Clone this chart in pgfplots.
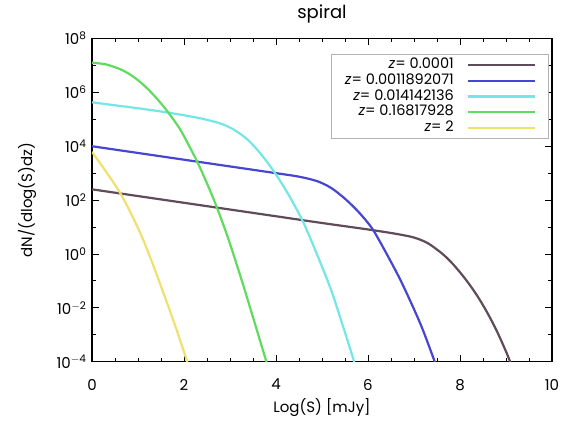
\documentclass[border=0pt]{standalone}
\usepackage{fontspec}
\setmainfont{Poppins}
\usepackage{pgfplots}
\pgfplotsset{compat=1.18}
\definecolor{cbrown}{RGB}{95,75,90}
\definecolor{cblue}{RGB}{70,70,210}
\definecolor{ccyan}{RGB}{115,230,230}
\definecolor{cgreen}{RGB}{95,220,95}
\definecolor{cyellow}{RGB}{240,225,110}
\begin{document}
\begin{tikzpicture}
\useasboundingbox (-92pt,-59.3pt) rectangle (471pt,361.7pt);
\begin{axis}[
  at={(0pt,0pt)}, anchor=south west, scale only axis,
  width=460pt, height=323.2pt,
  xmin=0, xmax=10, ymin=-4, ymax=8,
  xtick={0,2,...,10}, xticklabels={0,2,4,6,8,10}, minor x tick num=3,
  ytick={-4,-2,...,8}, minor ytick={-3,-1,...,7},
  yticklabels={10\textsuperscript{$-$4},10\textsuperscript{$-$2},10\textsuperscript{0},10\textsuperscript{2},10\textsuperscript{4},10\textsuperscript{6},10\textsuperscript{8}},
  axis line style={line width=1.1pt},
  every tick/.style={black, line width=0.9pt},
  major tick length=7pt, minor tick length=4pt,
  tick label style={font=\fontsize{15}{18}\selectfont},
  xticklabel style={yshift=-14pt},
  yticklabel style={xshift=-2pt},
  xlabel={Log(S) [mJy]}, ylabel={dN/(dlog(S)dz)},
  label style={font=\fontsize{15}{18}\selectfont},
  xlabel style={at={(axis description cs:0.5,-0.141)}, anchor=center},
  ylabel style={at={(axis description cs:-0.1413,0.5)}, anchor=center},
  title={spiral},
  title style={font=\fontsize{18}{20}\selectfont, at={(axis description cs:0.5,1.056)}, anchor=center},
  legend style={at={(0.993,0.952)}, anchor=north east, draw=gray!60, line width=0.5pt,
    font=\fontsize{14.5}{16}\selectfont, row sep=0.2pt, column sep=12pt, inner xsep=12pt, inner ysep=3pt,
    nodes={inner sep=1.5pt, text height=10pt, text depth=2.5pt}},
  legend cell align=right, legend plot pos=right,
  legend image code/.code={\draw[#1, line width=2.2pt] (0pt,0pt) -- (67pt,0pt);},
  every axis plot/.append style={line width=2.2pt, smooth, tension=0.5},
]
\addplot[cbrown] coordinates {(0,2.40) (1,2.15) (2,1.90) (3,1.65) (4,1.40) (5,1.15) (6,0.91) (6.6,0.75) (7.0,0.61) (7.3,0.40) (7.6,0.03) (7.8,-0.29) (8.0,-0.68) (8.2,-1.12) (8.4,-1.62) (8.6,-2.20) (8.8,-2.86) (9.0,-3.62) (9.1,-4.05) (9.15,-4.3)};
\addlegendentry{\textit{z}= 0.0001}
\addplot[cblue] coordinates {(0,4.0) (1,3.75) (2,3.5) (3,3.25) (4,3.0) (4.5,2.87) (4.9,2.70) (5.2,2.45) (5.5,2.05) (5.8,1.55) (6.1,0.92) (6.4,0.02) (6.7,-0.95) (7.0,-2.05) (7.2,-2.85) (7.45,-4.0) (7.5,-4.3)};
\addlegendentry{\textit{z}= 0.0011892071}
\addplot[ccyan] coordinates {(0,5.63) (0.5,5.52) (1,5.41) (1.5,5.29) (2,5.15) (2.4,5.02) (2.8,4.84) (3.1,4.60) (3.4,4.22) (3.7,3.65) (4.0,2.95) (4.3,2.12) (4.6,1.15) (4.9,-0.05) (5.2,-1.35) (5.45,-2.65) (5.7,-4.0) (5.75,-4.3)};
\addlegendentry{\textit{z}= 0.014142136}
\addplot[cgreen] coordinates {(0,7.10) (0.3,7.04) (0.64,6.84) (0.9,6.58) (1.15,6.23) (1.4,5.79) (1.65,5.27) (1.9,4.67) (2.1,4.05) (2.3,3.38) (2.5,2.62) (2.71,1.75) (2.96,0.58) (3.25,-0.95) (3.5,-2.35) (3.8,-4.05) (3.85,-4.3)};
\addlegendentry{\textit{z}= 0.16817928}
\addplot[cyellow] coordinates {(0,3.79) (0.3,3.07) (0.6,2.30) (0.85,1.50) (1.1,0.58) (1.3,-0.28) (1.5,-1.2) (1.8,-2.62) (2.06,-3.95) (2.12,-4.3)};
\addlegendentry{\textit{z}= 2}
\end{axis}
\end{tikzpicture}
\end{document}
